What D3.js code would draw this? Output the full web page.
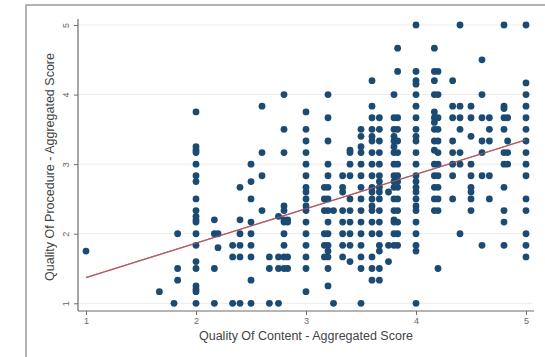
<!DOCTYPE html>
<html><head><meta charset="utf-8">
<script src="https://cdn.jsdelivr.net/npm/d3@7"></script>
<style>body{margin:0;background:#fff}svg{display:block}</style>
</head><body>
<svg id="c" width="545" height="357"></svg>
<script>
// Data: x positions of each column of points, and y values in that column
const columnX = [1.0, 1.667, 1.8, 1.833, 2.0, 2.167, 2.2, 2.333, 2.4, 2.5, 2.6, 2.667, 2.75, 2.8, 2.833,
  3.0, 3.167, 3.2, 3.25, 3.333, 3.4, 3.5, 3.6, 3.667, 3.75, 3.8, 3.833, 4.0, 4.167, 4.2,
  4.333, 4.4, 4.5, 4.6, 4.667, 4.8, 4.833, 5.0];
const columnY = [
  [1.75],
  [1.167],
  [1.0],
  [2.0, 1.5, 1.333],
  [3.75, 3.25, 3.2, 3.167, 3.0, 2.833, 2.75, 2.5, 2.333, 2.25, 2.2, 2.167, 2.0, 1.833, 1.6, 1.5, 1.25, 1.2, 1.167, 1.0],
  [2.2, 2.0, 1.5, 1.0],
  [2.0, 1.8],
  [1.833, 1.667, 1.0],
  [2.667, 2.2, 2.0, 1.833, 1.667, 1.0],
  [3.0, 2.75, 2.5, 2.167, 2.0, 1.833, 1.667, 1.333, 1.0],
  [3.833, 3.167, 2.833, 2.333],
  [1.667, 1.5, 1.0],
  [2.25, 1.667, 1.5, 1.0],
  [4.0, 3.5, 3.167, 2.4, 2.333, 2.2, 2.167, 2.0, 1.833, 1.667, 1.5],
  [2.2, 2.167, 1.667, 1.5],
  [3.75, 3.5, 3.333, 3.167, 3.0, 2.833, 2.667, 2.6, 2.5, 2.4, 2.333, 2.167, 2.0, 1.833, 1.667, 1.5, 1.167],
  [2.667, 2.5, 2.333, 2.0, 1.833, 1.667],
  [4.0, 3.667, 3.333, 3.0, 2.833, 2.667, 2.5, 2.333, 2.167, 2.0, 1.833, 1.75, 1.667, 1.5, 1.25],
  [2.333, 1.0],
  [2.833, 2.667, 2.6, 2.333, 2.167, 2.0, 1.833, 1.667],
  [3.2, 3.167, 3.0, 2.833, 2.5, 2.333, 2.167, 2.0, 1.833, 1.6],
  [3.5, 3.4, 3.25, 3.167, 3.0, 2.833, 2.667, 2.5, 2.333, 2.167, 2.0, 1.833, 1.667, 1.5, 1.0],
  [4.2, 3.833, 3.667, 3.5, 3.4, 3.333, 3.167, 3.0, 2.833, 2.667, 2.6, 2.5, 2.4, 2.333, 2.167, 2.0, 1.667, 1.5, 1.333],
  [3.667, 3.5, 3.333, 3.167, 3.0, 2.833, 2.75, 2.667, 2.6, 2.5, 2.333, 2.167, 2.0, 1.833, 1.75, 1.5, 1.333],
  [2.6, 1.833, 1.6],
  [4.0, 3.667, 3.5, 3.4, 3.333, 3.25, 3.167, 3.0, 2.833, 2.75, 2.667, 2.5, 2.333, 2.2, 2.167, 2.0, 1.833],
  [4.667, 4.333, 3.667, 3.5, 3.333, 3.167, 3.0, 2.833, 2.75, 2.667, 2.5, 2.333, 2.167, 2.0, 1.833],
  [5.0, 4.333, 4.2, 4.15, 4.0, 3.833, 3.667, 3.5, 3.4, 3.333, 3.167, 3.0, 2.833, 2.75, 2.667, 2.6, 2.5, 2.4, 2.333, 2.167, 2.0, 1.833, 1.75, 1.0],
  [4.667, 4.333, 4.2, 4.0, 3.75, 3.667, 3.6, 3.5, 3.333, 3.2, 3.0, 2.833, 2.667, 2.5, 2.333],
  [4.333, 4.0, 3.667, 3.5, 3.333, 3.167, 3.0, 2.833, 2.667, 2.5, 2.333, 1.5],
  [4.2, 3.833, 3.667, 3.333, 3.167, 3.0, 2.833, 2.5],
  [5.0, 3.833, 3.667, 3.5, 3.167, 3.0, 2.0],
  [3.833, 3.667, 3.4, 3.0, 2.833, 2.667, 2.6, 2.5, 2.333],
  [4.5, 4.0, 3.667, 3.333, 3.167, 2.833, 1.833],
  [3.667, 3.5, 3.333, 2.833, 2.5],
  [5.0, 3.833, 3.8, 3.667, 3.5, 3.167, 3.0, 2.667, 2.333, 2.167, 1.833],
  [3.667, 3.333, 3.167, 3.0],
  [5.0, 4.167, 4.0, 3.833, 3.667, 3.5, 3.333, 3.167, 3.0, 2.833, 2.5, 2.333, 2.0, 1.833, 1.667]
];
const fitX = [1, 5];
const fitY = [1.37, 3.35];
const xTicks = [1, 2, 3, 4, 5];
const yTicks = [1, 2, 3, 4, 5];
const xTitle = "Quality Of Content - Aggregated Score";
const yTitle = "Quality Of Procedure - Aggregated Score";

const points = [];
columnX.forEach((x, i) => columnY[i].forEach(y => points.push({x, y})));

const svg = d3.select("#c");
const x = d3.scaleLinear().domain([1, 5]).range([86, 526]);
const y = d3.scaleLinear().domain([1, 5]).range([303.3, 25]);

// outer frame
svg.append("rect").attr("x", 26).attr("y", 5).attr("width", 540).attr("height", 370)
  .attr("fill", "#fff").attr("stroke", "#9a9a9a").attr("stroke-width", 1.5);

// gridlines
svg.append("g").selectAll("line").data(yTicks).join("line")
  .attr("x1", 79).attr("x2", 532)
  .attr("y1", d => y(d)).attr("y2", d => y(d))
  .attr("stroke", "#ececec").attr("stroke-width", 1);

// axes
const axisY0 = 311, axisX0 = 78;
const gx = svg.append("g").attr("transform", `translate(0,${axisY0})`)
  .call(d3.axisBottom(x).tickValues(xTicks).tickSize(4).tickPadding(3).tickFormat(d3.format("d")));
gx.select(".domain").attr("d", `M${axisX0},0H534`);
const gy = svg.append("g").attr("transform", `translate(${axisX0},0)`)
  .call(d3.axisLeft(y).tickValues(yTicks).tickSize(4).tickPadding(3).tickFormat(d3.format("d")));
gy.select(".domain").attr("d", `M0,19V${axisY0}`);
[gx, gy].forEach(g => {
  g.selectAll(".domain").attr("stroke", "#6b6b6b").attr("stroke-width", 1.2);
  g.selectAll(".tick line").attr("stroke", "#6b6b6b");
  g.selectAll(".tick text").attr("fill", "#666").attr("font-family", "Liberation Sans, Arial, sans-serif").attr("font-size", 9);
});
gy.selectAll(".tick text")
  .attr("text-anchor", "middle").attr("x", null).attr("dy", null)
  .attr("transform", d => `translate(-12,0) rotate(-90)`).attr("y", 0).attr("dy", "0.32em");

// fit line
svg.append("line")
  .attr("x1", x(fitX[0])).attr("y1", y(fitY[0]))
  .attr("x2", x(fitX[1])).attr("y2", y(fitY[1]))
  .attr("stroke", "#b45c62").attr("stroke-width", 1.3);

// points
svg.append("g").selectAll("circle").data(points).join("circle")
  .attr("cx", d => x(d.x)).attr("cy", d => y(d.y)).attr("r", 3.4)
  .attr("fill", "#1b4a73");

// fit line drawn on top partially visible
svg.append("line")
  .attr("x1", x(fitX[0])).attr("y1", y(fitY[0]))
  .attr("x2", x(fitX[1])).attr("y2", y(fitY[1]))
  .attr("stroke", "#b45c62").attr("stroke-width", 1.1).attr("opacity", 0.75);

// titles
svg.append("text").attr("x", 306).attr("y", 340).attr("text-anchor", "middle")
  .attr("font-family", "Liberation Sans, Arial, sans-serif").attr("font-size", 12.5).attr("fill", "#444")
  .text(xTitle);
svg.append("text").attr("transform", "translate(54,167) rotate(-90)").attr("text-anchor", "middle")
  .attr("font-family", "Liberation Sans, Arial, sans-serif").attr("font-size", 12.5).attr("fill", "#444")
  .text(yTitle);
</script>
</body></html>
